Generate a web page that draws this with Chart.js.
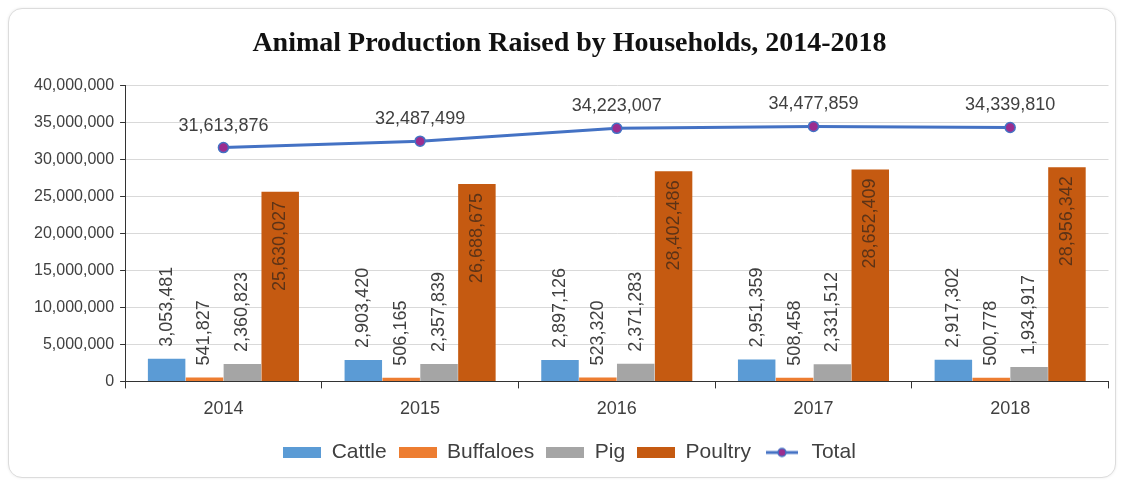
<!DOCTYPE html>
<html>
<head>
<meta charset="utf-8">
<script src="https://cdn.jsdelivr.net/npm/chart.js@4"></script>
<style>
  html, body { margin: 0; padding: 0; background: #ffffff; }
  #card {
    position: absolute; left: 8px; top: 8px; width: 1106px; height: 468px;
    border: 1px solid #dcdcdc; border-radius: 14px; background: #fff;
    box-shadow: 0 0 3px rgba(0,0,0,0.08);
  }
  #card canvas { display: block; }
</style>
</head>
<body>
<div id="card"><canvas id="chart" width="1106" height="468"></canvas></div>
<script>
// yearly household figures
const years = ['2014', '2015', '2016', '2017', '2018'];
const cattle = [3053481, 2903420, 2897126, 2951359, 2917302];
const buffaloes = [541827, 506165, 523320, 508458, 500778];
const pig = [2360823, 2357839, 2371283, 2331512, 1934917];
const poultry = [25630027, 26688675, 28402486, 28652409, 28956342];
const total = [31613876, 32487499, 34223007, 34477859, 34339810];

const fmt = v => v.toLocaleString('en-US');
const SANS = '"Liberation Sans", Arial, sans-serif';

// little swatches for the legend
function swatch(color) {
    const c = document.createElement('canvas');
    c.width = 38; c.height = 11;
    const g = c.getContext('2d');
    g.fillStyle = color;
    g.fillRect(0, 0, 38, 11);
    return c;
}
function lineSwatch() {
    const c = document.createElement('canvas');
    c.width = 32; c.height = 12;
    const g = c.getContext('2d');
    g.strokeStyle = '#4472C4';
    g.lineWidth = 3;
    g.beginPath(); g.moveTo(0, 6); g.lineTo(32, 6); g.stroke();
    g.fillStyle = '#9B2D8F';
    g.beginPath(); g.arc(16, 6, 4, 0, Math.PI * 2); g.fill();
    g.lineWidth = 1.5; g.stroke();
    return c;
}

// value labels: vertical for bars, horizontal above the total line
const valueLabels = {
    id: 'valueLabels',
    afterDatasetsDraw(chart) {
        const ctx = chart.ctx;
        ctx.save();
        ctx.font = '18px ' + SANS;
        chart.data.datasets.forEach((ds, i) => {
            const meta = chart.getDatasetMeta(i);
            meta.data.forEach((el, j) => {
                const text = fmt(ds.data[j]);
                if (ds.type === 'line') {
                    ctx.fillStyle = '#404040';
                    ctx.textAlign = 'center';
                    ctx.textBaseline = 'bottom';
                    ctx.fillText(text, el.x, el.y - 13);
                    return;
                }
                ctx.save();
                if (ds.label === 'Poultry') {
                    ctx.translate(el.x, el.y + 9);
                    ctx.rotate(-Math.PI / 2);
                    ctx.textAlign = 'right';
                    ctx.fillStyle = '#5c3317';
                } else {
                    ctx.translate(el.x, el.y - 12);
                    ctx.rotate(-Math.PI / 2);
                    ctx.textAlign = 'left';
                    ctx.fillStyle = '#404040';
                }
                ctx.textBaseline = 'middle';
                ctx.fillText(text, 0, 0);
                ctx.restore();
            });
        });
        ctx.restore();
    }
};

const legendIcons = [swatch('#5B9BD5'), swatch('#ED7D31'), swatch('#A5A5A5'), swatch('#C55A11'), lineSwatch()];

new Chart(document.getElementById('chart'), {
    type: 'bar',
    data: {
        labels: years,
        datasets: [
            { label: 'Cattle', data: cattle, backgroundColor: '#5B9BD5', order: 1 },
            { label: 'Buffaloes', data: buffaloes, backgroundColor: '#ED7D31', order: 1 },
            { label: 'Pig', data: pig, backgroundColor: '#A5A5A5', order: 1 },
            { label: 'Poultry', data: poultry, backgroundColor: '#C55A11', order: 1 },
            { type: 'line', label: 'Total', data: total, borderColor: '#4472C4', borderWidth: 3,
              pointBackgroundColor: '#9B2D8F', pointBorderColor: '#4472C4', pointBorderWidth: 1.5,
              pointRadius: 5, fill: false, order: 0 }
        ]
    },
    options: {
        responsive: false,
        animation: false,
        layout: { padding: { left: 19, right: 4, top: 6, bottom: 4 } },
        datasets: { bar: { barPercentage: 0.99, categoryPercentage: 0.77, borderWidth: 0 } },
        plugins: {
            title: {
                display: true,
                text: 'Animal Production Raised by Households, 2014-2018',
                font: { family: '"Liberation Serif", "Times New Roman", serif', size: 28, weight: 'bold' },
                color: '#111',
                padding: { top: 12, bottom: 25 }
            },
            legend: {
                position: 'bottom',
                labels: {
                    usePointStyle: true,
                    pointStyleWidth: 38,
                    boxHeight: 12,
                    padding: 12,
                    color: '#404040',
                    font: { family: SANS, size: 21 },
                    generateLabels(chart) {
                        return chart.data.datasets.map((ds, i) => ({
                            text: ds.label,
                            datasetIndex: i,
                            pointStyle: legendIcons[i],
                            fontColor: '#404040',
                            hidden: false,
                            lineWidth: 0
                        }));
                    }
                }
            },
            tooltip: { enabled: false }
        },
        scales: {
            x: {
                grid: { display: true, drawOnChartArea: false, offset: true, color: '#333', tickLength: 7 },
                border: { color: '#333', width: 1 },
                ticks: { color: '#404040', font: { family: SANS, size: 18 }, padding: 10 }
            },
            y: {
                min: 0, max: 40000000,
                ticks: { stepSize: 5000000, color: '#404040', padding: 6,
                         font: { family: SANS, size: 16 },
                         callback: v => fmt(v) },
                grid: { color: '#d9d9d9', tickColor: '#333', tickLength: 5 },
                border: { display: true, color: '#333', width: 1 }
            }
        }
    },
    plugins: [valueLabels]
});
</script>
</body>
</html>
